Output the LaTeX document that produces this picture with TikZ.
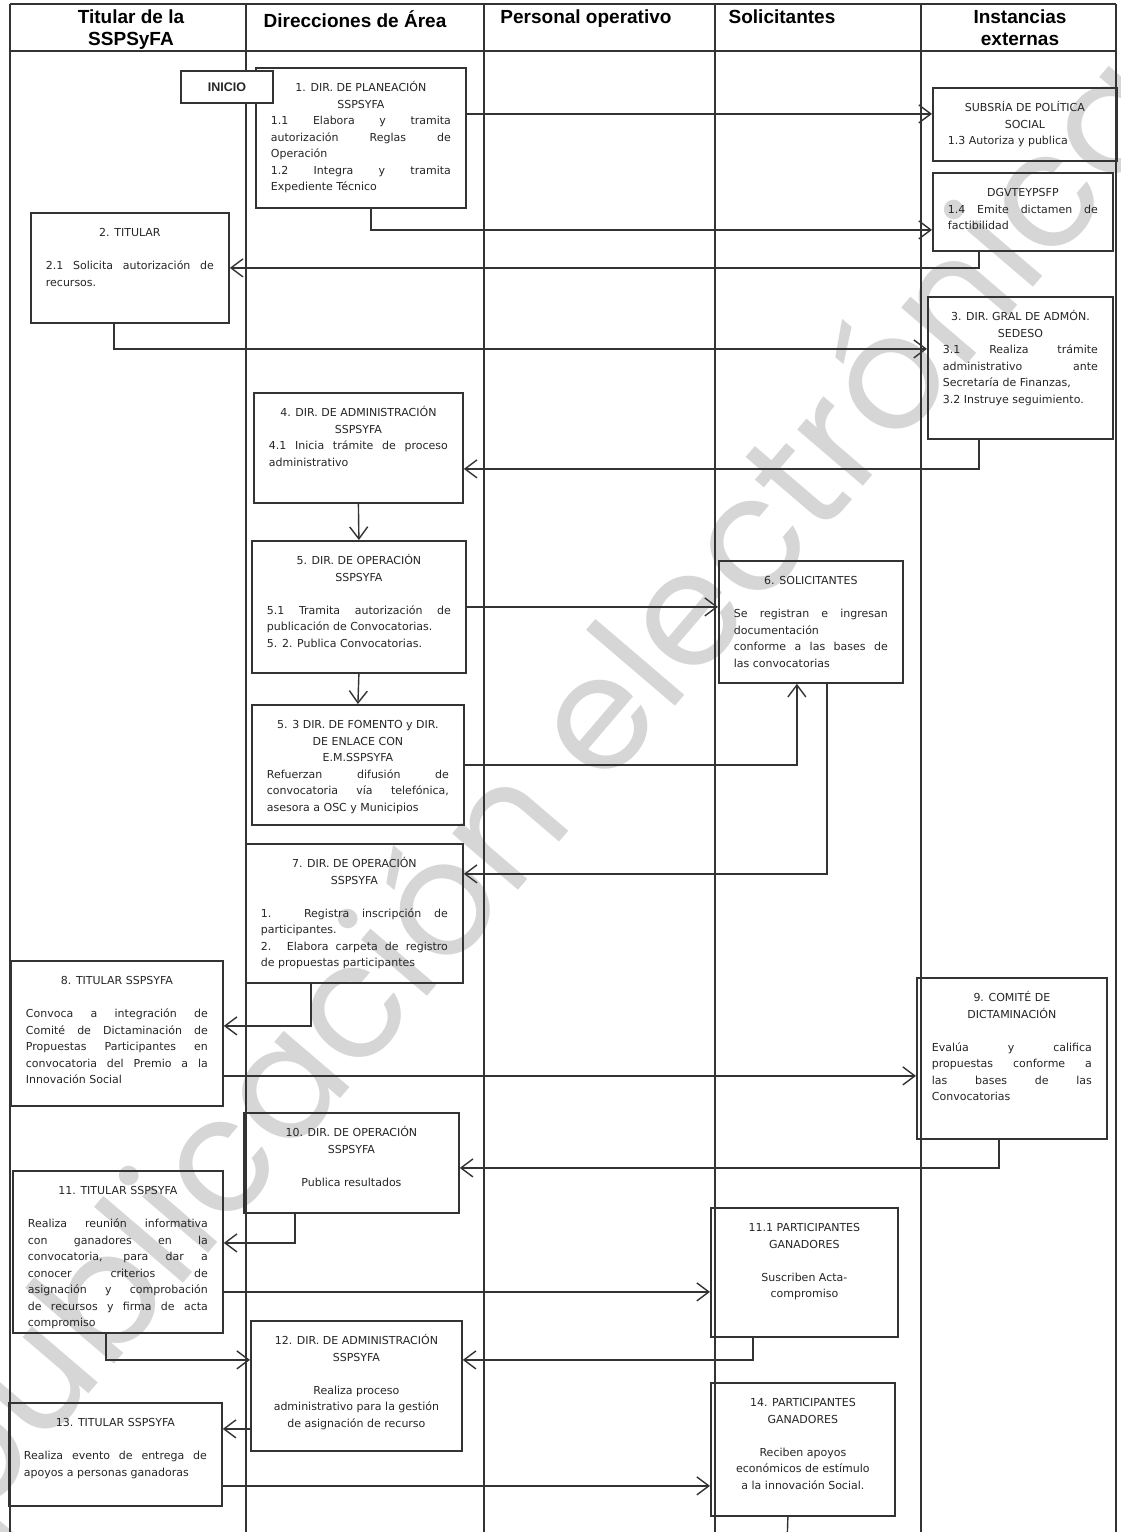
\documentclass[tikz,border=0pt]{standalone}
\usepackage{fontspec}
\setmainfont{DejaVu Sans}
\newfontfamily\encfont{Liberation Sans}
\newfontfamily\marcafont{Poppins}
\usetikzlibrary{arrows.meta}
\tikzstyle{carril}=[draw=black!80, line width=1.4pt]
\tikzstyle{caja}=[draw=black!80, line width=1.8pt, anchor=north west, inner xsep=15pt, inner ysep=12pt, text=black!85, font=\fontsize{11}{16.5}\selectfont]
\tikzstyle{encab}=[anchor=north, align=center, inner sep=0pt, font=\encfont\bfseries\fontsize{19}{22}\selectfont]
\tikzstyle{flecha}=[draw=black!80, line width=1.4pt, -{Straight Barb[length=12pt,width=18pt]}]
\tikzstyle{linea}=[draw=black!80, line width=1.4pt]
\tikzstyle{marca}=[rotate=49.5, inner sep=0pt, text=black!16, font=\marcafont\fontsize{158}{158}\selectfont]
\newcommand{\cuadro}[3]{\parbox[c][\dimexpr#2pt-24pt\relax][t]{\dimexpr#1pt-30pt\relax}{#3}}
\newcommand{\titulo}[1]{{\centering\rule{0pt}{12pt}#1\par}}
\newcommand{\hueco}{\vspace{16.5pt}}

\begin{document}
\begin{tikzpicture}[x=1pt, y=-1pt]

\useasboundingbox (0,0) rectangle (1120,1532);
\fill[white] (0,0) rectangle (1120,1532);

% watermark
\begin{scope}
  \clip (0,0) rectangle (1120,1532);
  \node[marca] (marca) at (545,795) {publicación electrónica};
\end{scope}

% lanes
\foreach \x in {10,246,484,715,921,1116}
    \draw[carril] (\x,4) -- (\x,1540);
\draw[carril] (10,4) -- (1116,4);
\draw[carril] (10,51) -- (1116,51);

\node[encab] (hdtit) at (131,10) {Titular de la\\SSPSyFA};
\node[encab] (hddir) at (355,10) {Direcciones de Área};
\node[encab] (hdper) at (586,10) {Personal operativo};
\node[encab] (hdsol) at (782,10) {Solicitantes};
\node[encab] (hdinst) at (1020,10) {Instancias\\externas};

% steps
\node[caja] (planea) at (255,67) {\cuadro{210}{140}{\titulo{1. DIR. DE PLANEACIÓN\\SSPSYFA}1.1 Elabora y tramita\linebreak autorización Reglas de\linebreak Operación\par 1.2 Integra y tramita\linebreak Expediente Técnico}};
\node[caja, fill=white, inner sep=0pt, minimum width=92pt, minimum height=32pt, font=\encfont\bfseries\fontsize{12.5}{14}\selectfont] (inicio) at (180,70) {INICIO};
\node[caja] (subsria) at (932,87) {\cuadro{184}{73}{\titulo{SUBSRÍA DE POLÍTICA\\SOCIAL}1.3 Autoriza y publica}};
\node[caja] (dgvte) at (932,172) {\cuadro{180}{78}{\titulo{DGVTEYPSFP}1.4 Emite dictamen de\linebreak factibilidad}};
\node[caja] (titular) at (30,212) {\cuadro{198}{110}{\titulo{2. TITULAR}\hueco 2.1 Solicita autorización de\linebreak recursos.}};
\node[caja] (gral) at (927,296) {\cuadro{185}{142}{\titulo{3. DIR. GRAL DE ADMÓN.\\SEDESO}3.1 Realiza trámite\linebreak administrativo ante\linebreak Secretaría de Finanzas,\par 3.2 Instruye seguimiento.}};
\node[caja] (admon) at (253,392) {\cuadro{209}{110}{\titulo{4. DIR. DE ADMINISTRACIÓN\\SSPSYFA}4.1 Inicia trámite de proceso\linebreak administrativo}};
\node[caja] (opera) at (251,540) {\cuadro{214}{132}{\titulo{5. DIR. DE OPERACIÓN\\SSPSYFA}\hueco 5.1 Tramita autorización de\linebreak publicación de Convocatorias.\par 5. 2. Publica Convocatorias.}};
\node[caja] (fomento) at (251,704) {\cuadro{212}{120}{\titulo{5. 3 DIR. DE FOMENTO y DIR.\\DE ENLACE CON\\E.M.SSPSYFA}Refuerzan difusión de\linebreak convocatoria vía telefónica,\linebreak asesora a OSC y Municipios}};
\node[caja] (solic) at (718,560) {\cuadro{184}{122}{\titulo{6. SOLICITANTES}\hueco Se registran e ingresan\linebreak documentación\\ conforme a las bases de\linebreak las convocatorias}};
\node[caja] (regis) at (245,843) {\cuadro{217}{139}{\titulo{7. DIR. DE OPERACIÓN\\SSPSYFA}\hueco 1. Registra inscripción de\linebreak participantes.\par 2. Elabora carpeta de registro\linebreak de propuestas participantes}};
\node[caja] (convoca) at (10,960) {\cuadro{212}{145}{\titulo{8. TITULAR SSPSYFA}\hueco Convoca a integración de\linebreak Comité de Dictaminación de\linebreak Propuestas Participantes en\linebreak convocatoria del Premio a la\linebreak Innovación Social}};
\node[caja] (comite) at (916,977) {\cuadro{190}{161}{\titulo{9. COMITÉ DE\\DICTAMINACIÓN}\hueco Evalúa y califica\linebreak propuestas conforme a\linebreak las bases de las\linebreak Convocatorias}};
\node[caja] (publica) at (243,1112) {\cuadro{215}{100}{\titulo{10. DIR. DE OPERACIÓN\\SSPSYFA}\hueco{\centering Publica resultados\par}}};
\node[caja] (reunion) at (12,1170) {\cuadro{210}{162}{\titulo{11. TITULAR SSPSYFA}\hueco Realiza reunión informativa\linebreak con ganadores en la\linebreak convocatoria, para dar a\linebreak conocer criterios de\linebreak asignación y comprobación\linebreak de recursos y firma de acta\linebreak compromiso}};
\node[caja] (suscriben) at (710,1207) {\cuadro{187}{129}{\titulo{11.1 PARTICIPANTES\\GANADORES}\hueco{\centering Suscriben Acta-\\compromiso\par}}};
\node[caja] (proceso) at (250,1320) {\cuadro{211}{130}{\titulo{12. DIR. DE ADMINISTRACIÓN\\SSPSYFA}\hueco{\centering Realiza proceso\\administrativo para la gestión\\de asignación de recurso\par}}};
\node[caja] (evento) at (8,1402) {\cuadro{213}{103}{\titulo{13. TITULAR SSPSYFA}\hueco Realiza evento de entrega de\linebreak apoyos a personas ganadoras}};
\node[caja] (reciben) at (710,1382) {\cuadro{184}{133}{\titulo{14. PARTICIPANTES\\GANADORES}\hueco{\centering Reciben apoyos\\económicos de estímulo\\a la innovación Social.\par}}};
\coordinate (fin) at (787,1545);

% straight connectors
\draw[flecha] ([yshift=24pt]planea.east) -- ([yshift=10.5pt]subsria.west);
\draw[flecha] (admon.south) -- (opera.north);
\draw[flecha] (opera.east) -- ([yshift=15pt]solic.west);
\draw[flecha] (opera.south) -- (fomento.north);
\draw[flecha] (fomento.east) -| ([xshift=-14pt]solic.south);
\draw[flecha] ([yshift=-42.5pt]convoca.east) -- ([yshift=-17.5pt]comite.west);
\draw[flecha] ([yshift=-40pt]reunion.east) -- ([yshift=-19.5pt]suscriben.west);
\draw[flecha] ([yshift=-43pt]proceso.west) -- ([yshift=25.5pt]evento.east);
\draw[flecha] ([yshift=-31.5pt]evento.east) -- ([yshift=-36.5pt]reciben.west);
\draw[linea] ([xshift=-15pt]reciben.south) -- (fin);

% elbow connectors
\foreach \source/\dx/\dest/\dy in {planea/10/dgvte.west/-18, dgvte/-44/titular.east/0,
    titular/-16/gral.west/19, gral/-41.5/admon.east/-21, solic/16/regis.east/39.5,
    regis/-43.5/convoca.east/7.5, comite/-13/publica.east/-5, publica/-56.5/reunion.east/9,
    reunion/-12/proceso.west/26, suscriben/-51.5/proceso.east/26}
    \path[flecha] ([xshift=\dx]\source.south) |- ([yshift=\dy]\dest);

\end{tikzpicture}
\end{document}
